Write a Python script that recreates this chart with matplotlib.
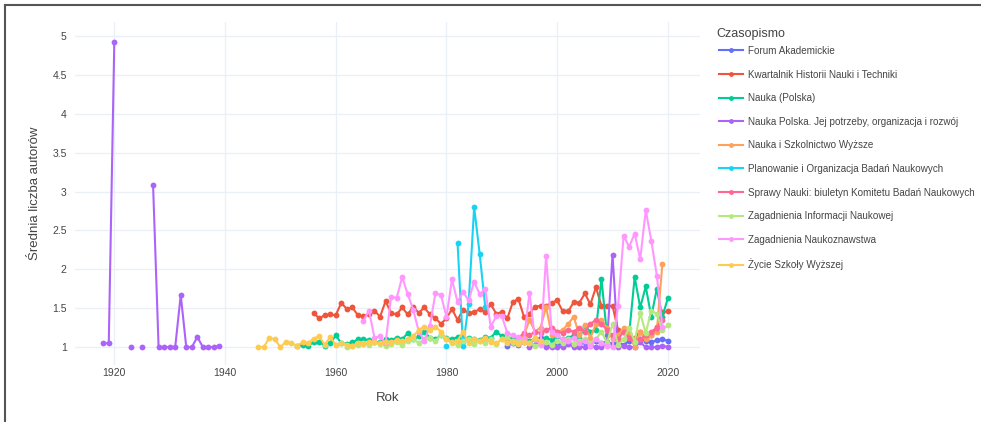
import numpy as np
import matplotlib.pyplot as plt
from matplotlib.lines import Line2D

plt.rcParams["font.family"] = ["Liberation Sans", "DejaVu Sans"]

nan = np.nan

# Średnia liczba autorów na artykuł, rok po roku (nan = brak danych)
forum_lata = list(range(1991, 2021))
forum = [1.02, 1.05, 1.03, 1.07, 1.05, 1.10, 1.12, 1.04, 1.03, 1.05,
         1.02, 1.06, 1.04, 1.03, 1.06, 1.04, 1.08, 1.05, 1.07, 1.04,
         1.06, 1.03, 1.08, 1.05, 1.10, 1.08, 1.06, 1.09, 1.10, 1.08]

kwartalnik_lata = list(range(1956, 2021))
kwartalnik = [1.44, 1.37, 1.41, 1.42, 1.41, 1.57, 1.49, 1.51, 1.41, 1.40,
              1.42, 1.47, 1.39, 1.59, 1.44, 1.42, 1.51, 1.42, 1.52, 1.44,
              1.51, 1.42, 1.37, 1.30, 1.37, 1.49, 1.35, 1.48, 1.44, 1.45,
              1.49, 1.45, 1.55, 1.43, 1.45, 1.37, 1.58, 1.62, 1.39, 1.43,
              1.52, 1.53, 1.53, 1.57, 1.60, 1.46, 1.46, 1.58, 1.57, 1.69,
              1.55, 1.77, 1.53, 1.53, 1.53, 1.22, 1.20, 1.14, 1.12, 1.20,
              1.10, 1.15, 1.26, 1.45, 1.46]

nauka_lata = list(range(1953, 2021))
nauka = [1.02, 1.03, 1.02, 1.06, 1.07, 1.02, 1.05, 1.15, 1.05, 1.04,
         1.06, 1.10, 1.10, 1.09, 1.06, 1.07, 1.10, 1.09, 1.12, 1.10,
         1.18, 1.10, 1.14, 1.20, 1.12, 1.10, 1.15, 1.12, 1.10, 1.13,
         1.08, 1.12, 1.10, 1.09, 1.13, 1.12, 1.20, 1.14, 1.10, 1.13,
         1.10, 1.12, 1.08, 1.10, 1.07, 1.12, 1.09, 1.14, 1.10, 1.12,
         1.15, 1.12, 1.27, 1.20, 1.22, 1.88, 1.15, 1.14, 1.12, 1.20,
         1.17, 1.90, 1.51, 1.78, 1.39, 1.75, 1.39, 1.63]

# przerwa 1940-1994: brak numerów
nauka_polska_lata = list(range(1918, 1941)) + list(range(1995, 2021))
nauka_polska = [1.05, 1.05, 4.92, nan, nan, 1.00, nan, 1.00, nan, 3.09,
                1.00, 1.00, 1.00, 1.00, 1.67, 1.00, 1.00, 1.13, 1.00, 1.00,
                1.00, 1.02, nan,
                1.00, 1.03, 1.08, 1.00, 1.00, 1.00, 1.00, 1.04, 1.00, 1.00,
                1.00, 1.02, 1.00, 1.00, 1.05, 2.19, 1.00, 1.02, 1.00, 1.00,
                1.06, 1.00, 1.00, 1.00, 1.02, 1.00]

szkolnictwo_lata = list(range(1991, 2020))
szkolnictwo = [1.10, 1.05, 1.12, 1.15, 1.35, 1.20, 1.25, 1.52, 1.15, 1.20,
               1.22, 1.30, 1.39, 1.15, 1.28, 1.12, 1.30, 1.35, 1.25, 1.10,
               1.15, 1.25, 1.18, 1.00, 1.20, 1.10, 1.15, 1.20, 2.07]

planowanie_lata = list(range(1980, 1988))
planowanie = [1.01, nan, 2.34, 1.01, 1.55, 2.80, 2.20, 1.52]

sprawy_lata = list(range(1993, 2020))
sprawy = [1.12, 1.18, 1.15, 1.20, 1.18, 1.22, 1.25, 1.20, 1.18, 1.22,
          1.20, 1.25, 1.20, 1.30, 1.35, 1.30, 1.22, 1.15, 1.10, 1.20,
          1.12, 1.08, 1.10, 1.15, 1.20, 1.25, 1.35]

zin_lata = list(range(1962, 2021))
zin = [1.00, 1.02, 1.03, 1.05, 1.03, 1.06, 1.04, 1.02, 1.04, 1.06,
       1.03, 1.08, 1.10, 1.05, 1.10, 1.12, 1.08, 1.15, 1.10, 1.05,
       1.03, 1.08, 1.10, 1.04, 1.08, 1.05, 1.10, 1.04, 1.10, 1.13,
       1.06, 1.08, 1.10, 1.05, 1.02, 1.04, 1.06, 1.03, 1.08, 1.05,
       1.10, 1.04, 1.08, 1.10, 1.05, 1.10, 1.20, 1.05, 1.30, 1.03,
       1.10, 1.25, 1.07, 1.44, 1.18, 1.47, 1.43, 1.22, 1.28]

naukoznawstwo_lata = list(range(1965, 2020))
naukoznawstwo = [1.34, 1.47, 1.12, 1.14, 1.05, 1.65, 1.63, 1.90, 1.68, 1.48,
                 1.20, 1.08, 1.27, 1.69, 1.67, 1.39, 1.87, 1.58, 1.71, 1.60,
                 1.84, 1.68, 1.75, 1.26, 1.40, 1.40, 1.18, 1.15, 1.13, 1.10,
                 1.70, 1.10, 1.03, 2.17, 1.20, 1.15, 1.10, 1.08, 1.12, 1.05,
                 1.08, 1.02, 1.10, 1.05, 1.02, 1.00, 1.53, 2.43, 2.29, 2.46,
                 2.13, 2.76, 2.37, 1.92, 1.26]

zycie_lata = list(range(1946, 1998))
zycie = [1.00, 1.00, 1.12, 1.10, 1.00, 1.07, 1.05, 1.02, 1.06, 1.05,
         1.11, 1.14, 1.03, 1.13, 1.03, 1.05, 1.03, 1.02, 1.05, 1.04,
         1.07, 1.06, 1.05, 1.07, 1.06, 1.09, 1.08, 1.10, 1.14, 1.22,
         1.26, 1.22, 1.26, 1.20, 1.10, 1.06, 1.08, 1.20, 1.05, 1.10,
         1.08, 1.12, 1.06, 1.05, 1.10, 1.05, 1.08, 1.04, 1.06, 1.05,
         1.12, 1.08]

serie = [
    ("Forum Akademickie", forum_lata, forum, "#636EFA"),
    ("Kwartalnik Historii Nauki i Techniki", kwartalnik_lata, kwartalnik, "#EF553B"),
    ("Nauka (Polska)", nauka_lata, nauka, "#00CC96"),
    ("Nauka Polska. Jej potrzeby, organizacja i rozwój", nauka_polska_lata, nauka_polska, "#AB63FA"),
    ("Nauka i Szkolnictwo Wyższe", szkolnictwo_lata, szkolnictwo, "#FFA15A"),
    ("Planowanie i Organizacja Badań Naukowych", planowanie_lata, planowanie, "#19D3F3"),
    ("Sprawy Nauki: biuletyn Komitetu Badań Naukowych", sprawy_lata, sprawy, "#FF6692"),
    ("Zagadnienia Informacji Naukowej", zin_lata, zin, "#B6E880"),
    ("Zagadnienia Naukoznawstwa", naukoznawstwo_lata, naukoznawstwo, "#FF97FF"),
    ("Życie Szkoły Wyższej", zycie_lata, zycie, "#FECB52"),
]

txt = "#444444"

fig = plt.figure(figsize=(9.81, 4.22), dpi=100)
ax = fig.add_axes([75 / 981, 1 - 365 / 422, (700 - 75) / 981, (365 - 22) / 422])

uchwyty = []
for nazwa, lata, wartosci, kolor in serie:
    ax.plot(lata, wartosci, color=kolor, lw=1.5, marker="o", ms=4.2,
            markeredgewidth=0, solid_joinstyle="round")
    uchwyty.append(Line2D([], [], color=kolor, lw=1.5, marker="o", ms=3.5,
                          markeredgewidth=0))

ax.set_xlim(1912.9, 2025.8)
ax.set_ylim(0.77, 5.18)
ax.set_xticks([1920, 1940, 1960, 1980, 2000, 2020])
ax.set_yticks([1, 1.5, 2, 2.5, 3, 3.5, 4, 4.5, 5])
ax.set_yticklabels(["1", "1.5", "2", "2.5", "3", "3.5", "4", "4.5", "5"])
ax.grid(color="#EBF0F8", lw=1)
ax.set_axisbelow(True)
for s in ax.spines.values():
    s.set_visible(False)
ax.tick_params(axis="y", length=0, labelsize=7.5, colors=txt, pad=6)
ax.tick_params(axis="x", length=0, labelsize=7.5, colors=txt, pad=2)
ax.set_xlabel("Rok", fontsize=9.5, color=txt, labelpad=10)
ax.set_ylabel("Średnia liczba autorów", fontsize=9.5, color=txt, labelpad=8)

# legenda z osobnym tytułem
fig.text(716 / 981, 1 - 34 / 422, "Czasopismo", fontsize=9, color=txt, va="center")
fig.legend(uchwyty, [s[0] for s in serie], loc="upper left",
           bbox_to_anchor=(712 / 981, 1 - 39 / 422), frameon=False,
           fontsize=7.1, labelspacing=1.38, handlelength=2.4,
           handletextpad=0.5, labelcolor=txt, borderaxespad=0.3)

# ramka zrzutu ekranu
fig.add_artist(Line2D([5 / 981, 5 / 981], [0, 1 - 5 / 422], color="#555555", lw=1.5))
fig.add_artist(Line2D([5 / 981, 1], [1 - 5 / 422, 1 - 5 / 422], color="#555555", lw=1.5))

plt.savefig("out.png", dpi=100)
